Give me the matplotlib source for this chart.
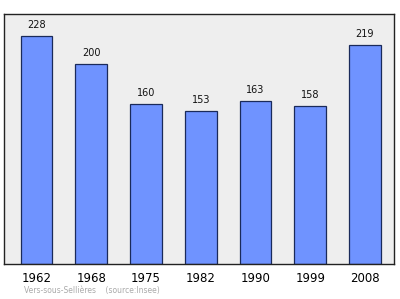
import matplotlib
matplotlib.use('Agg')
import matplotlib.pyplot as plt

years = ['1962', '1968', '1975', '1982', '1990', '1999', '2008']
population = [228, 200, 160, 153, 163, 158, 219]
source = 'Vers-sous-Sellières    (source:Insee)'

fig = plt.figure(figsize=(4, 2.99), dpi=100)
ax = fig.add_axes([0.01, 0.117, 0.975, 0.836])
ax.set_facecolor('#eeeeee')

x = range(len(years))
ax.bar(x, population, width=0.58, color='#6f93ff', edgecolor='#1a2a5a', linewidth=0.9)
for i, v in enumerate(population):
    ax.text(i, v + 6, str(v), ha='center', va='bottom', fontsize=7, color='#111111')

ax.set_xlim(-0.594, 6.53)
ax.set_ylim(0, 250)
ax.set_yticks([])
ax.set_xticks(list(x))
ax.set_xticklabels(years, fontsize=8.5)
ax.tick_params(axis='x', length=0, pad=6)
for s in ax.spines.values():
    s.set_color('#222222')
    s.set_linewidth(1)

fig.text(0.06, 0.02, source, fontsize=5.5, color='#aaaaaa')

fig.savefig('out.png', dpi=100)
